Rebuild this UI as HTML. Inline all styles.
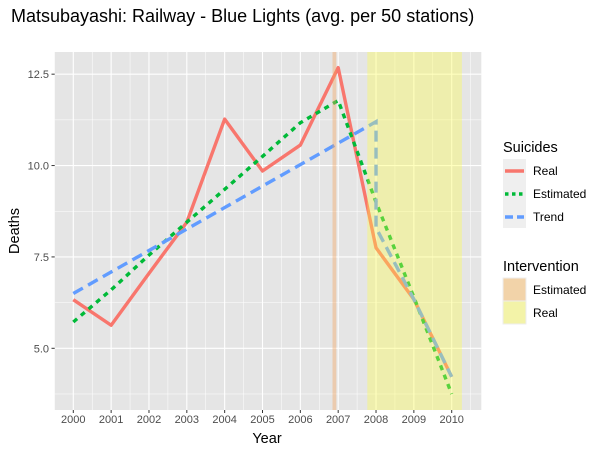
<!DOCTYPE html>
<html><head><meta charset="utf-8"><style>
body{margin:0;background:#fff;}
svg{display:block;font-family:"Liberation Sans",sans-serif;}
</style></head><body>
<svg id="chart" width="600" height="453" viewBox="0 0 600 453">
<text x="11" y="22" font-size="18" fill="#000">Matsubayashi: Railway - Blue Lights (avg. per 50 stations)</text>
<rect x="54.7" y="52" width="426.6" height="358" fill="#e5e5e5"/>
<g id="grid"></g>
<g id="series"></g>
<g id="shades"></g>
<g id="axes"></g>
<text x="267" y="443" font-size="14.5" text-anchor="middle">Year</text>
<text transform="translate(19,231) rotate(-90)" font-size="14.5" text-anchor="middle">Deaths</text>
<g>
<text x="503" y="152" font-size="14.5">Suicides</text>
<rect x="503" y="159" width="23" height="69" fill="#efefef"/>
<line x1="505" y1="171" x2="524" y2="171" stroke="#F8766D" stroke-width="3.4"/>
<line x1="505" y1="194" x2="524" y2="194" stroke="#00BA38" stroke-width="3.4" stroke-dasharray="3.5,3.5"/>
<line x1="505" y1="217" x2="524" y2="217" stroke="#619CFF" stroke-width="3.4" stroke-dasharray="8,4"/>
<text x="533" y="175" font-size="12">Real</text>
<text x="533" y="198" font-size="12">Estimated</text>
<text x="533" y="221" font-size="12">Trend</text>
</g>
<g>
<text x="503" y="271" font-size="14.5">Intervention</text>
<rect x="503" y="278" width="23" height="23" fill="#f2d3a9" stroke="#eee"/>
<rect x="503" y="301" width="23" height="23" fill="#f3f3a8" stroke="#eee"/>
<text x="533" y="294" font-size="12">Estimated</text>
<text x="533" y="317" font-size="12">Real</text>
</g>
</svg>
<script>
const years=[2000,2001,2002,2003,2004,2005,2006,2007,2008,2009,2010];
const realVals=[6.33,5.63,7.05,8.45,11.27,9.85,10.56,12.68,7.75,6.34,4.22];
const estVals=[5.72,6.6,7.55,8.45,9.35,10.25,11.17,11.78,9.0,6.4,3.75];
const trendYears=[2000,2008,2008,2009,2010];
const trendVals=[6.5,11.2,8.3,6.34,4.22];
const yTicks=[5.0,7.5,10.0,12.5];
const yTickLabels=["5.0","7.5","10.0","12.5"];
const estIntervention=[2006.85,2006.95];
const realIntervention=[2007.77,2010.27];
const NS="http://www.w3.org/2000/svg";
const X=y=>73.3+(y-2000)*37.84;
const Y=v=>348.3-(v-5)*36.55;
const pTop=52,pBot=410,pLeft=54.7,pRight=481.3;
function mk(t,a,p){const e=document.createElementNS(NS,t);for(const k in a)e.setAttribute(k,a[k]);document.getElementById(p).appendChild(e);return e;}
const minorY=[3.75,6.25,8.75,11.25];
for(const m of minorY){
 const l2=mk('line',{x1:pLeft,x2:pRight,y1:Y(m),y2:Y(m),stroke:'#fff','stroke-width':0.5},'grid');
 
 
}
for(let i=0;i<yTicks.length;i++){
 const l=mk('line',{x1:pLeft,x2:pRight,y1:Y(yTicks[i]),y2:Y(yTicks[i]),stroke:'#fff','stroke-width':1.1},'grid');
 
 
 const t=mk('text',{x:49,y:Y(yTicks[i])+4,'font-size':11,'text-anchor':'end',fill:'#4d4d4d'},'axes');
 t.textContent=yTickLabels[i];
 
 
 mk('line',{x1:51.5,x2:54.7,y1:Y(yTicks[i]),y2:Y(yTicks[i]),stroke:'#333'},'axes');
}
{const m=mk('line',{x1:X(1999.5),x2:X(1999.5),y1:pTop,y2:pBot,stroke:'#fff','stroke-width':0.5},'grid');
 
 }
for(let i=0;i<years.length;i++){
 const l=mk('line',{x1:X(years[i]),x2:X(years[i]),y1:pTop,y2:pBot,stroke:'#fff','stroke-width':1.1},'grid');
 
 
 const m=mk('line',{x1:X(years[i]+0.5),x2:X(years[i]+0.5),y1:pTop,y2:pBot,stroke:'#fff','stroke-width':0.5},'grid');
 
 
 const t=mk('text',{x:X(years[i]),y:423,'font-size':11,'text-anchor':'middle',fill:'#4d4d4d'},'axes');
 t.textContent=years[i];
 
 
 mk('line',{x1:X(years[i]),x2:X(years[i]),y1:pBot,y2:pBot+3,stroke:'#333'},'axes');
}
function pts(xs,vs){return xs.map((x,i)=>X(x)+','+Y(vs[i])).join(' ');}
const r=mk('polyline',{points:pts(years,realVals),fill:'none',stroke:'#F8766D','stroke-width':3.4,'stroke-linejoin':'round'},'series');


const e=mk('polyline',{points:pts(years,estVals),fill:'none',stroke:'#00BA38','stroke-width':3.4,'stroke-dasharray':'5,5'},'series');


const tr=mk('polyline',{points:pts(trendYears,trendVals),fill:'none',stroke:'#619CFF','stroke-width':3.4,'stroke-dasharray':'11,6'},'series');


const s1=mk('rect',{x:X(estIntervention[0]),y:pTop,width:X(estIntervention[1])-X(estIntervention[0]),height:pBot-pTop,fill:'#F4A460','fill-opacity':0.4},'shades');


const s2=mk('rect',{x:X(realIntervention[0]),y:pTop,width:X(realIntervention[1])-X(realIntervention[0]),height:pBot-pTop,fill:'#ffff44','fill-opacity':0.35},'shades');


</script>
</body></html>
